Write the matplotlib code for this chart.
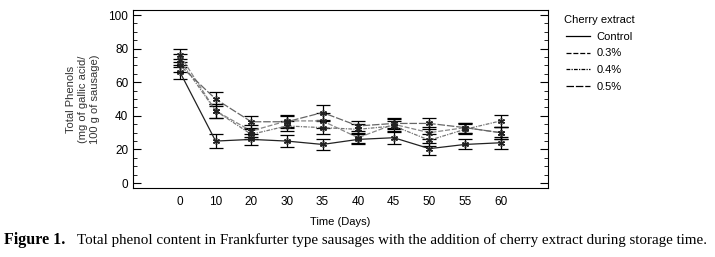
import matplotlib.pyplot as plt
import numpy as np

plt.rcParams['font.family'] = ['Liberation Sans', 'DejaVu Sans']

days = ['0', '10', '20', '30', '35', '40', '45', '50', '55', '60']
control = [66, 25, 26, 25, 23, 26, 27, 20.5, 23, 24]
pct03 = [76, 43, 31, 37, 37, 27, 35, 30, 33, 30]
pct04 = [73, 43, 29, 34, 33, 32, 34, 25.5, 32, 37]
pct05 = [70, 50, 36.5, 36.5, 42, 34, 35.5, 35.5, 33, 30]
err_control = [4, 4, 3.5, 3.5, 3.5, 3, 3.5, 3.5, 3, 3.5]
err_03 = [4, 4, 3.5, 3.5, 4.5, 3, 3, 3.5, 3, 3.5]
err_04 = [4, 4, 3, 3, 4, 3, 3, 3.5, 3, 3.5]
err_05 = [4, 4, 3.5, 3.5, 4.5, 3, 3, 3.5, 3, 3.5]

series = [
    ('Control', control, err_control, '-', '#222222'),
    ('0.3%', pct03, err_03, (0, (4, 1.5)), '#888888'),
    ('0.4%', pct04, err_04, (0, (3, 1, 1, 1)), '#777777'),
    ('0.5%', pct05, err_05, (0, (6, 1.5)), '#666666'),
]

fig = plt.figure(figsize=(7.15, 2.57), dpi=100)
ax = fig.add_axes([0.186, 0.268, 0.580, 0.693])

x = np.arange(len(days))
handles = []
for name, vals, errs, ls, col in series:
    ax.errorbar(x, vals, yerr=errs, fmt='none', ecolor='black',
                elinewidth=0.9, capsize=5, capthick=0.9, zorder=3)
    ax.plot(x, vals, linestyle=ls, color=col, linewidth=0.9,
            marker=(6, 2, 0), markersize=5, markeredgecolor='#222222',
            markeredgewidth=1.0, zorder=4)
    handles.append(plt.Line2D([], [], color='black', linestyle=ls, linewidth=0.9))

ax.set_xlim(-1.32, 10.32)
ax.set_ylim(-3, 103)
ax.set_xticks(x)
ax.set_xticklabels(days, fontsize=8.5)
ax.tick_params(axis='x', length=0, pad=6)
ax.set_yticks(np.arange(0, 101, 20))
ax.set_yticks(np.arange(0, 101, 5), minor=True)
ax.tick_params(axis='y', which='both', direction='in', right=True, labelsize=8.5)
ax.tick_params(axis='y', which='major', length=6)
ax.tick_params(axis='y', which='minor', length=3)

ax.set_xlabel('Time (Days)', fontsize=8, labelpad=6)
ax.set_ylabel('Total Phenols\n(mg of gallic acid/\n100 g of sausage)', fontsize=8,
              labelpad=6, color='#333333', linespacing=1.25)

fig.legend(handles, ['Control', '0.3%', '0.4%', '0.5%'],
           title='Cherry extract', loc='upper left',
           bbox_to_anchor=(0.775, 0.98), frameon=False, fontsize=8,
           title_fontsize=8, handlelength=2.2, handletextpad=0.6,
           labelspacing=0.6)

fig.text(0.006, 0.05, 'Figure 1.', fontsize=11.5, fontweight='bold',
         family='Liberation Serif')
fig.text(0.108, 0.05,
         'Total phenol content in Frankfurter type sausages with the addition of cherry extract during storage time.',
         fontsize=10.8, family='Liberation Serif')

fig.savefig('out.png', dpi=100)
